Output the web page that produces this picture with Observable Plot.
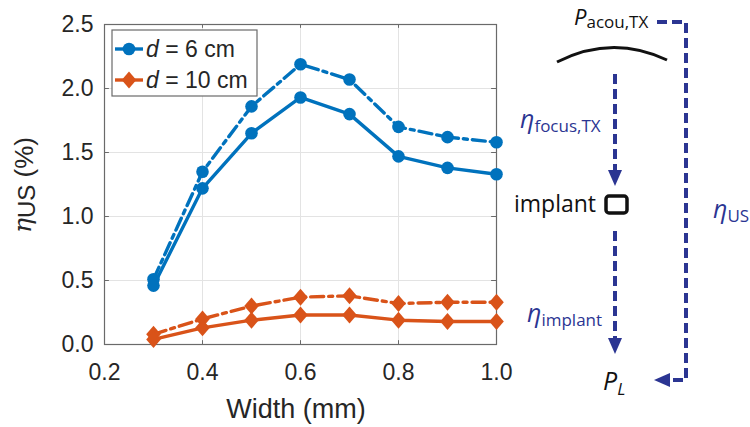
<!DOCTYPE html>
<html><head><meta charset="utf-8">
<script src="https://cdn.jsdelivr.net/npm/d3@7"></script>
<script src="https://cdn.jsdelivr.net/npm/@observablehq/plot@0.6"></script>
<style>
html,body{margin:0;padding:0;background:#fff;}
#chart{width:750px;height:427px;overflow:hidden;}
</style></head>
<body><div id="chart"></div>
<script>
const widths = [0.3, 0.4, 0.5, 0.6, 0.7, 0.8, 0.9, 1.0];
const d6Solid = [0.46, 1.22, 1.65, 1.93, 1.80, 1.47, 1.38, 1.33];
const d6Dashed = [0.51, 1.35, 1.86, 2.19, 2.07, 1.70, 1.62, 1.58];
const d10Solid = [0.04, 0.13, 0.19, 0.23, 0.23, 0.19, 0.18, 0.18];
const d10Dashed = [0.08, 0.20, 0.30, 0.37, 0.38, 0.32, 0.33, 0.33];
const xTicks = [0.2, 0.4, 0.6, 0.8, 1.0];
const yTicks = [0, 0.5, 1.0, 1.5, 2.0, 2.5];
const legendLabels = ["6 cm", "10 cm"];

const BLUE = "#0072BD", ORANGE = "#D95319", NAVY = "#2B3592";
const rows = (ys) => widths.map((w, i) => ({x: w, y: ys[i]}));
const dash = "13,5,4,5";
const mDiamond = {draw(ctx) { ctx.moveTo(0, -8.5); ctx.lineTo(7.3, 0); ctx.lineTo(0, 8.5); ctx.lineTo(-7.3, 0); ctx.closePath(); }};

const svg = Plot.plot({
  width: 750, height: 427,
  marginLeft: 104, marginRight: 254, marginTop: 24, marginBottom: 83,
  style: {fontFamily: "'Liberation Sans', Arial, sans-serif", fontSize: "23px", color: "#262626", background: "#fff"},
  x: {domain: [0.2, 1.0]},
  y: {domain: [0, 2.5]},
  marks: [
    Plot.gridX(xTicks, {stroke: "#e3e3e3", strokeOpacity: 1}),
    Plot.gridY(yTicks, {stroke: "#e3e3e3", strokeOpacity: 1}),
    Plot.frame({stroke: "#6a6a6a", strokeWidth: 1.2}),
    Plot.ruleX(xTicks, {y1: 0, y2: 0.03, stroke: "#6a6a6a"}),
    Plot.ruleX(xTicks, {y1: 2.47, y2: 2.5, stroke: "#6a6a6a"}),
    Plot.ruleY(yTicks, {x1: 0.2, x2: 0.21, stroke: "#6a6a6a"}),
    Plot.ruleY(yTicks, {x1: 0.99, x2: 1.0, stroke: "#6a6a6a"}),
    Plot.axisX(xTicks, {tickSize: 0, tickPadding: 19, tickFormat: d3.format(".1f"), label: null, fontSize: 23}),
    Plot.axisY(yTicks, {tickSize: 0, tickPadding: 11, tickFormat: d3.format(".1f"), label: null, fontSize: 23}),
    Plot.line(rows(d10Dashed), {x: "x", y: "y", stroke: ORANGE, strokeWidth: 3.4, strokeDasharray: dash}),
    Plot.line(rows(d10Solid), {x: "x", y: "y", stroke: ORANGE, strokeWidth: 3.4}),
    Plot.line(rows(d6Dashed), {x: "x", y: "y", stroke: BLUE, strokeWidth: 3.4, strokeDasharray: dash}),
    Plot.line(rows(d6Solid), {x: "x", y: "y", stroke: BLUE, strokeWidth: 3.4}),
    Plot.dot(rows(d10Dashed), {x: "x", y: "y", fill: ORANGE, symbol: mDiamond}),
    Plot.dot(rows(d10Solid), {x: "x", y: "y", fill: ORANGE, symbol: mDiamond}),
    Plot.dot(rows(d6Dashed), {x: "x", y: "y", fill: BLUE, r: 6.3}),
    Plot.dot(rows(d6Solid), {x: "x", y: "y", fill: BLUE, r: 6.3})
  ]
});
document.getElementById("chart").appendChild(svg);

const s = d3.select(svg);
const sans = "'Liberation Sans', Arial, sans-serif";

// X label
s.append("text").attr("x", 296).attr("y", 418).attr("text-anchor", "middle")
  .attr("font-family", sans).attr("font-size", 27).attr("fill", "#262626").text("Width (mm)");

// Y label
const yl = s.append("text").attr("transform", "translate(33,185) rotate(-90)")
  .attr("text-anchor", "middle").attr("font-family", sans).attr("fill", "#262626");
yl.append("tspan").attr("font-size", 25).attr("font-style", "italic").attr("font-family", "'DejaVu Serif', serif").attr("dy", -2).text("η");
yl.append("tspan").attr("font-size", 24).attr("dy", 4).text("US");
yl.append("tspan").attr("font-size", 26).attr("dy", -2).text(" (%)");

// Legend
const lg = s.append("g").attr("text-anchor", "start");
lg.append("rect").attr("x", 112).attr("y", 30).attr("width", 145).attr("height", 66)
  .attr("fill", "#fff").attr("stroke", "#6a6a6a").attr("stroke-width", 1.2);
[[BLUE, d3.symbolCircle, 49], [ORANGE, mDiamond, 80]].forEach(([c, sym, y], i) => {
  lg.append("line").attr("x1", 115).attr("x2", 143).attr("y1", y).attr("y2", y).attr("stroke", c).attr("stroke-width", 3.4);
  lg.append("path").attr("d", d3.symbol(sym, 125)()).attr("transform", `translate(129,${y})`).attr("fill", c);
  const t = lg.append("text").attr("x", 146).attr("y", y + 8).attr("font-family", sans).attr("font-size", 23).attr("fill", "#262626");
  t.append("tspan").attr("font-style", "italic").text("d");
  t.append("tspan").text(" = " + legendLabels[i]);
});

// Diagram
const dg = s.append("g").attr("text-anchor", "start");
const hum = "'Open Sans', 'Noto Sans', sans-serif";
const dline = (pts) => dg.append("path").attr("d", d3.line()(pts)).attr("fill", "none")
  .attr("stroke", NAVY).attr("stroke-width", 4).attr("stroke-dasharray", "10,5");
const head = (pts) => dg.append("path").attr("d", d3.line()(pts) + "Z").attr("fill", NAVY);

// P_acou,TX
const p1 = dg.append("text").attr("x", 574).attr("y", 25).attr("font-family", hum).attr("fill", "#111");
p1.append("tspan").attr("font-size", 22).attr("font-style", "italic").text("P");
p1.append("tspan").attr("font-size", 17).attr("dy", 3).text("acou,TX");

// transducer arc
dg.append("path").attr("d", "M557,62 Q612,34 667,60").attr("fill", "none").attr("stroke", "#111").attr("stroke-width", 3);

// outer path
dline([[657, 22], [686, 22], [686, 380], [670, 380]]);
head([[654, 380], [670, 373], [670, 387]]);

// focus arrow
dline([[615, 74], [615, 170]]);
head([[615, 186], [608, 170], [622, 170]]);

// implant arrow
dline([[615, 231], [615, 338]]);
head([[615, 354], [608, 338], [622, 338]]);

const eta = (x, y, sub) => {
  const t = dg.append("text").attr("x", x).attr("y", y).attr("font-family", hum).attr("fill", NAVY);
  t.append("tspan").attr("font-size", 25).attr("font-style", "italic").text("η");
  t.append("tspan").attr("font-size", 17).attr("dy", 4).text(sub);
};
eta(520, 128, "focus,TX");
eta(527, 322, "implant");
eta(713, 218, "US");

// implant
dg.append("text").attr("x", 514).attr("y", 212).attr("font-family", hum).attr("font-size", 23).attr("fill", "#111").text("implant");
dg.append("rect").attr("x", 606).attr("y", 196).attr("width", 21).attr("height", 17).attr("rx", 3)
  .attr("fill", "none").attr("stroke", "#111").attr("stroke-width", 3.5);

// P_L
const pl = dg.append("text").attr("x", 603).attr("y", 390).attr("font-family", hum).attr("fill", "#111");
pl.append("tspan").attr("font-size", 25).attr("font-style", "italic").text("P");
pl.append("tspan").attr("font-size", 17).attr("font-style", "italic").attr("dy", 5).text("L");
</script></body></html>
